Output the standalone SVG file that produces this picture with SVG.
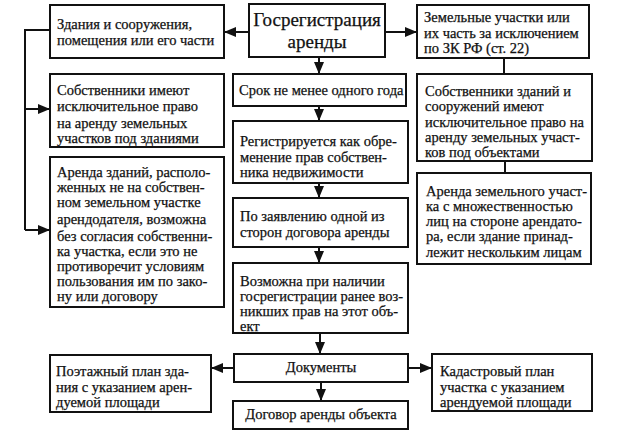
<svg xmlns="http://www.w3.org/2000/svg" width="618" height="442" viewBox="0 0 618 442">
<defs>
<style>
.b{fill:#fff;stroke:#111;stroke-width:2}
text{font-family:'Liberation Serif','Times New Roman',serif;fill:#111;stroke:#111;stroke-width:0.25}
.t{font-size:14.5px}
.h{font-size:19px}
.c{text-anchor:middle}
.l{fill:none;stroke:#111;stroke-width:2}
</style>
<marker id="a" markerUnits="userSpaceOnUse" markerWidth="12" markerHeight="10" refX="11" refY="5" orient="auto">
<path d="M0,0 L12,5 L0,10 Z" fill="#111"/>
</marker>
</defs>
<rect width="618" height="442" fill="#fff"/>
<g id="connectors">
<path class="l" d="M249,32 H225" marker-end="url(#a)"/>
<path class="l" d="M385,32 H416" marker-end="url(#a)"/>
<path class="l" d="M50,30 H25 V230"/>
<path class="l" d="M25,109 H49" marker-end="url(#a)"/>
<path class="l" d="M25,230 H49" marker-end="url(#a)"/>
<path class="l" d="M319,57 V73" marker-end="url(#a)"/>
<path class="l" d="M319,106 V120" marker-end="url(#a)"/>
<path class="l" d="M319,183 V197" marker-end="url(#a)"/>
<path class="l" d="M319,247 V262" marker-end="url(#a)"/>
<path class="l" d="M320,333 V353" marker-end="url(#a)"/>
<path class="l" d="M321,382 V400" marker-end="url(#a)"/>
<path class="l" d="M234,368 H212" marker-end="url(#a)"/>
<path class="l" d="M408,368 H431" marker-end="url(#a)"/>
<path class="l" d="M504,58 V74"/>
<path class="l" d="M505,161 V173"/>
</g>
<g id="n-gosreg">
<rect class="b" x="249" y="4" width="136" height="53"/>
<text class="h c" x="317" y="26">Госрегистрация</text>
<text class="h c" x="317" y="48">аренды</text>
</g>
<g id="n-zdaniya">
<rect class="b" x="50" y="5" width="174" height="53"/>
<text class="t" x="57" y="29">Здания и сооружения,</text>
<text class="t" x="57" y="45">помещения или его части</text>
</g>
<g id="n-zemuch">
<rect class="b" x="417" y="5" width="172" height="53"/>
<text class="t" x="424" y="22">Земельные участки или</text>
<text class="t" x="424" y="38">их часть за исключением</text>
<text class="t" x="424" y="53">по ЗК РФ (ст. 22)</text>
</g>
<g id="n-sobstv-left">
<rect class="b" x="50" y="74" width="174" height="73"/>
<text class="t" x="57" y="95">Собственники имеют</text>
<text class="t" x="57" y="111">исключительное право</text>
<text class="t" x="57" y="128">на аренду земельных</text>
<text class="t" x="57" y="143">участков под зданиями</text>
</g>
<g id="n-arenda-zdaniy">
<rect class="b" x="50" y="157" width="174" height="150"/>
<text class="t" x="57" y="177">Аренда зданий, располо-</text>
<text class="t" x="57" y="192">женных не на собствен-</text>
<text class="t" x="57" y="207">ном земельном участке</text>
<text class="t" x="57" y="224">арендодателя, возможна</text>
<text class="t" x="57" y="241">без согласия собственни-</text>
<text class="t" x="57" y="256">ка участка, если это не</text>
<text class="t" x="57" y="271">противоречит условиям</text>
<text class="t" x="57" y="286">пользования им по зако-</text>
<text class="t" x="57" y="301">ну или договору</text>
</g>
<g id="n-srok">
<rect class="b" x="233" y="74" width="173" height="32"/>
<text class="t" x="239" y="95">Срок не менее одного года</text>
</g>
<g id="n-registr">
<rect class="b" x="233" y="121" width="175" height="62"/>
<text class="t" x="240" y="146">Регистрируется как обре-</text>
<text class="t" x="240" y="162">менение прав собствен-</text>
<text class="t" x="240" y="177">ника недвижимости</text>
</g>
<g id="n-zayavl">
<rect class="b" x="233" y="198" width="175" height="49"/>
<text class="t" x="240" y="221">По заявлению одной из</text>
<text class="t" x="240" y="237">сторон договора аренды</text>
</g>
<g id="n-vozm">
<rect class="b" x="233" y="263" width="175" height="70"/>
<text class="t" x="240" y="286">Возможна при наличии</text>
<text class="t" x="240" y="301">госрегистрации ранее воз-</text>
<text class="t" x="240" y="316">никших прав на этот объ-</text>
<text class="t" x="240" y="331">ект</text>
</g>
<g id="n-sobstv-right">
<rect class="b" x="417" y="74" width="175" height="87"/>
<text class="t" x="425" y="96">Собственники зданий и</text>
<text class="t" x="425" y="111">сооружений имеют</text>
<text class="t" x="425" y="127">исключительное право на</text>
<text class="t" x="425" y="142">аренду земельных участ-</text>
<text class="t" x="425" y="157">ков под объектами</text>
</g>
<g id="n-arenda-uch">
<rect class="b" x="417" y="173" width="174" height="91"/>
<text class="t" x="426" y="196">Аренда земельного участ-</text>
<text class="t" x="426" y="211">ка с множественностью</text>
<text class="t" x="426" y="226">лиц на стороне арендато-</text>
<text class="t" x="426" y="241">ра, если здание принад-</text>
<text class="t" x="426" y="257">лежит нескольким лицам</text>
</g>
<g id="n-docs">
<rect class="b" x="234" y="354" width="174" height="28"/>
<text class="t c" x="321" y="372">Документы</text>
</g>
<g id="n-poetazh">
<rect class="b" x="50" y="355" width="161" height="57"/>
<text class="t" x="56" y="376">Поэтажный план зда-</text>
<text class="t" x="56" y="391.5">ния с указанием арен-</text>
<text class="t" x="56" y="407">дуемой площади</text>
</g>
<g id="n-kadastr">
<rect class="b" x="432" y="354" width="160" height="57"/>
<text class="t" x="440" y="376">Кадастровый план</text>
<text class="t" x="440" y="391.5">участка с указанием</text>
<text class="t" x="440" y="407">арендуемой площади</text>
</g>
<g id="n-dogovor">
<rect class="b" x="233" y="401" width="175" height="28"/>
<text class="t c" x="321" y="419">Договор аренды объекта</text>
</g>
</svg>
